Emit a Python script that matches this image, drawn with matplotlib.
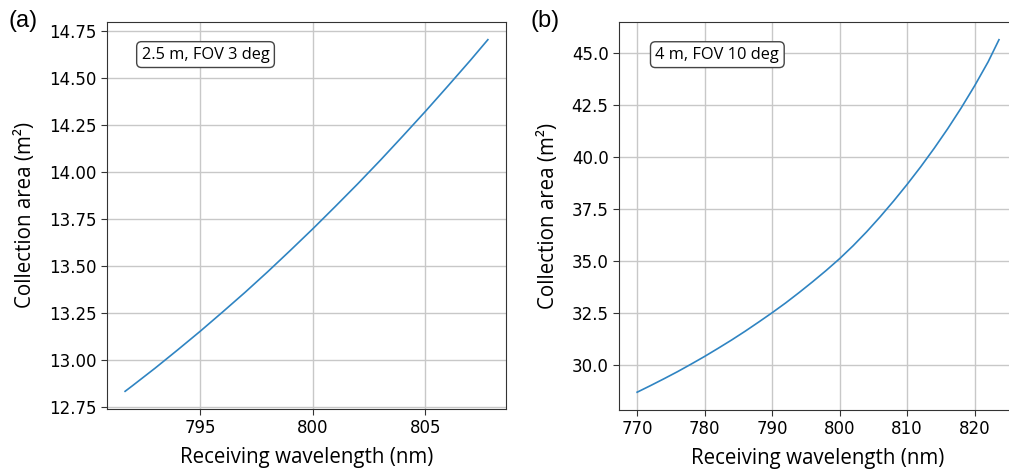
import numpy as np
import matplotlib
matplotlib.use("Agg")
import matplotlib.pyplot as plt

# --- data ---
# (a) 2.5 m, FOV 3 deg
wl_a = [791.67, 792, 793, 794, 795, 796, 797, 798, 799, 800,
        801, 802, 803, 804, 805, 806, 807, 807.77]
area_a = [12.836, 12.866, 12.959, 13.056, 13.155, 13.258, 13.363, 13.472, 13.585, 13.700,
          13.819, 13.940, 14.065, 14.194, 14.325, 14.460, 14.597, 14.706]

# (b) 4 m, FOV 10 deg
wl_b = [770, 772, 774, 776, 778, 780, 782, 784, 786, 788, 790, 792, 794, 796, 798, 800,
        802, 804, 806, 808, 810, 812, 814, 816, 818, 820, 822, 823.6]
area_b = [28.68, 29.00, 29.33, 29.67, 30.03, 30.40, 30.79, 31.19, 31.61, 32.05, 32.50,
          32.97, 33.47, 33.99, 34.53, 35.10, 35.72, 36.39, 37.11, 37.87, 38.67,
          39.51, 40.40, 41.34, 42.34, 43.41, 44.56, 45.62]

labels = ["(a)", "(b)"]
notes = ["2.5 m, FOV 3 deg", "4 m, FOV 10 deg"]
xticks_a = [795, 800, 805]
xticks_b = [770, 780, 790, 800, 810, 820]

label_font = "Open Sans"

fig = plt.figure(figsize=(10.09, 4.70), dpi=100)
ax1 = fig.add_axes([0.106, 0.130, 0.3955, 0.823])
ax2 = fig.add_axes([0.6135, 0.128, 0.3945, 0.825])

for ax, x, y, note, xt in [(ax1, wl_a, area_a, notes[0], xticks_a),
                           (ax2, wl_b, area_b, notes[1], xticks_b)]:
    ax.plot(x, y, color="#2f84c2", lw=1.2)
    ax.set_xticks(xt)
    ax.grid(True, color="#c8c8c8", lw=1.0)
    ax.set_axisbelow(True)
    ax.tick_params(labelsize=12, color="#333333", length=4)
    for s in ax.spines.values():
        s.set_color("#333333")
    ax.set_xlabel("Receiving wavelength (nm)", fontsize=14.8, family=label_font, labelpad=7)
    ax.set_ylabel("Collection area (m²)", fontsize=14.8, family=label_font, labelpad=9)
    ax.text(0.247, 0.916, note, transform=ax.transAxes, ha="center", va="center",
            fontsize=11.8, family=label_font,
            bbox=dict(boxstyle="round,pad=0.3", fc="white", ec="#444444", lw=1.0))

ax1.yaxis.set_major_formatter(matplotlib.ticker.FormatStrFormatter("%.2f"))
ax2.yaxis.set_major_formatter(matplotlib.ticker.FormatStrFormatter("%.1f"))

fig.text(0.008, 0.955, labels[0], fontsize=17, family="Liberation Sans", va="center")
fig.text(0.526, 0.955, labels[1], fontsize=17, family="Liberation Sans", va="center")

fig.savefig("out.png", dpi=100)
